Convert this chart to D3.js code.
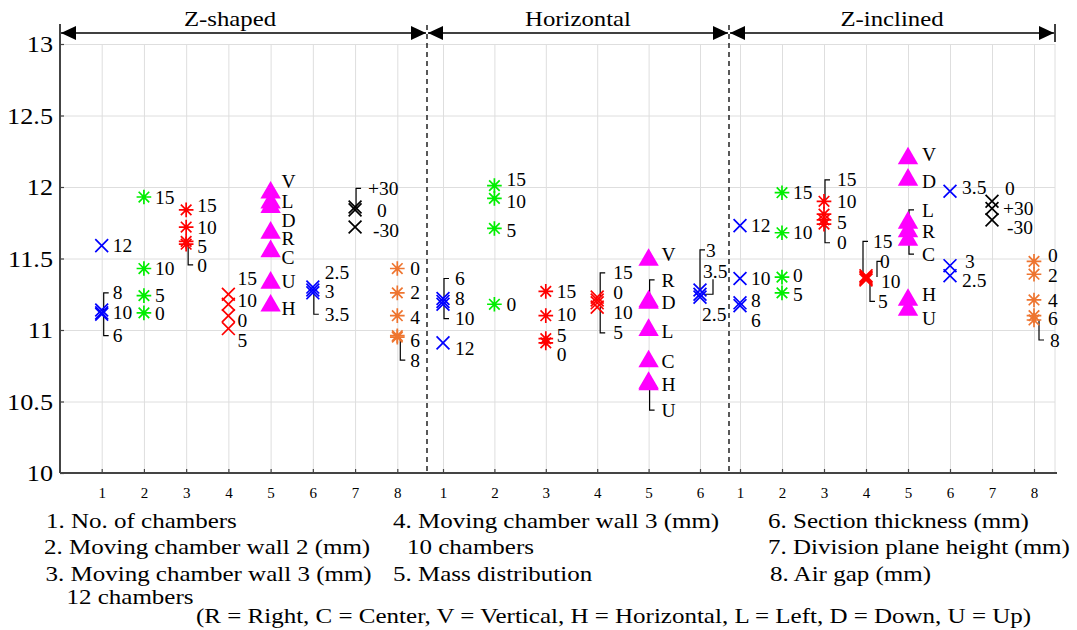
<!DOCTYPE html>
<html>
<head>
<meta charset="utf-8">
<script src="https://cdn.jsdelivr.net/npm/d3@7"></script>
<style>
body { margin: 0; background: #fff; }
text { font-family: "Liberation Serif", "Times New Roman", serif; fill: #000; }
</style>
</head>
<body>
<script>
// ---- data ----
const sectionNames = ["Z-shaped", "Horizontal", "Z-inclined"];
const sectionTicks = [[1, 2, 3, 4, 5, 6, 7, 8], [1, 2, 3, 4, 5, 6], [1, 2, 3, 4, 5, 6, 7, 8]];
const yTicks = [10, 10.5, 11, 11.5, 12, 12.5, 13];

// Z-shaped: one array per factor (1..8)
const zsTags = [["12","8","10","6"], ["15","10","5","0"], ["15","10","5","0"], ["15","10","0","5"],
  ["V","L","D","R","C","U","H"], ["2.5","3","3.5"], ["+30","0","-30"], ["0","2","4","6","8"]];
const zsValues = [[11.59,11.14,11.12,11.11], [11.93,11.43,11.24,11.12], [11.84,11.72,11.60,11.62],
  [11.25,11.18,11.10,11.01], [11.96,11.89,11.86,11.68,11.55,11.33,11.17], [11.30,11.28,11.26],
  [11.86,11.84,11.72], [11.43,11.26,11.10,10.96,10.95]];

// Horizontal: factors 1..6
const hzTags = [["6","8","10","12"], ["15","10","5","0"], ["15","10","5","0"], ["15","0","10","5"],
  ["V","R","D","L","C","H","U"], ["3","3.5","2.5"]];
const hzValues = [[11.22,11.20,11.18,10.91], [12.01,11.92,11.71,11.18], [11.27,11.10,10.94,10.91],
  [11.23,11.21,11.19,11.16], [11.49,11.20,11.19,11.00,10.78,10.63,10.62], [11.28,11.25,11.23]];

// Z-inclined: factors 1..8
const ziTags = [["12","10","8","6"], ["15","10","0","5"], ["15","10","5","0"], ["15","0","10","5"],
  ["V","D","L","R","C","H","U"], ["3.5","3","2.5"], ["0","+30","-30"], ["0","2","4","6","8"]];
const ziValues = [[11.73,11.36,11.19,11.17], [11.96,11.68,11.37,11.26], [11.90,11.81,11.77,11.74],
  [11.38,11.37,11.36,11.35], [12.20,12.05,11.75,11.69,11.63,11.21,11.14], [11.97,11.45,11.38],
  [11.90,11.85,11.77], [11.48,11.39,11.21,11.10,11.07]];

const legendLines = [
  "1. No. of chambers", "2. Moving chamber wall 2 (mm)", "3. Moving chamber wall 3 (mm)", "12 chambers",
  "4. Moving chamber wall 3 (mm)", "10 chambers", "5. Mass distribution",
  "6. Section thickness (mm)", "7. Division plane height (mm)", "8. Air gap (mm)",
  "(R = Right, C = Center, V = Vertical, H = Horizontal, L = Left, D = Down, U = Up)"
];

// ---- label placement (annotation layout, in y-value units) ----
const zsLabelY = [[11.59,11.26,11.12,10.96], [11.93,11.43,11.245,11.115], [11.87,11.72,11.585,11.455],
  [11.36,11.21,11.07,10.93], [12.04,11.90,11.77,11.64,11.51,11.34,11.15], [11.40,11.27,11.11],
  [11.99,11.84,11.70], [11.43,11.26,11.09,10.93,10.79]];
const zsLabelDx = [11, 11, 11, 9, 11, 12, [13, 22, 18], 13];
const zsLeaders = [[0,1,2], [0,3,2], [2,3,2], [5,2,1], [6,0,1], [7,4,3]];

const hzLabelY = [[11.36,11.22,11.08,10.87], [12.05,11.90,11.70,11.18], [11.27,11.11,10.965,10.83],
  [11.40,11.26,11.12,10.98], [11.53,11.35,11.19,10.99,10.78,10.62,10.44], [11.56,11.41,11.11]];
const hzLabelDx = [12, 12, 11, 16, 13, [6, 3, 2]];
const hzLeaders = [[0,0,1], [0,2,1], [3,0,3], [3,3,3], [4,1,1], [4,6,1], [5,0,0], [5,1,13,"m"]];

const ziLabelY = [[11.73,11.36,11.21,11.07], [11.96,11.68,11.38,11.25], [12.05,11.90,11.75,11.61],
  [11.62,11.48,11.34,11.20], [12.23,12.04,11.84,11.69,11.53,11.25,11.08], [12.00,11.48,11.35],
  [11.99,11.85,11.72], [11.52,11.38,11.21,11.08,10.93]];
const ziLabelDx = [11, 11, 13, [7, 14, 15, 12], 14, [12, 15, 12], [13, 11, 15], [14, 14, 14, 14, 16]];
const ziLeaders = [[2,0,1], [2,3,1], [3,0,-3], [3,1,11], [3,3,4], [4,2,1], [4,4,1], [7,4,5]];

// ---- styles ----
const factorColor = ["#0000ff", "#00ee00", "#ff0000", "#ff0000", "#ff00ff", "#0000ff", "#000000", "#ee7530"];
const factorShape = ["x", "star", "star", "x", "tri", "x", "x", "star"];

// ---- layout ----
const width = 1077, height = 630;
const plotL = 60, plotR = 1055, plotT = 44, plotB = 473;
const sectionEdge = [60, 427, 729, 1055];
const sectionRange = [[101.7, 397.3], [443, 700], [740, 1034]];
const titleX = [230, 578, 892];

const svg = d3.select("body").append("svg").attr("width", width).attr("height", height);

const y = d3.scaleLinear().domain([10, 13]).range([plotB, plotT]);
const xScales = sectionTicks.map((t, i) =>
  d3.scaleLinear().domain([1, t.length]).range(sectionRange[i]));

function stext(g, x, yy, str, size, sx, anchor) {
  return g.append("text")
    .attr("transform", `translate(${x},${yy}) scale(${sx},1)`)
    .attr("font-size", size)
    .attr("text-anchor", anchor || "start")
    .text(str);
}

// grid
svg.append("g")
  .attr("transform", `translate(${plotL},0)`)
  .call(d3.axisLeft(y).tickValues(yTicks).tickSize(-(plotR - plotL)).tickFormat(""))
  .call(g => g.select(".domain").remove())
  .call(g => g.selectAll("line").attr("stroke", "#dedede"));

xScales.forEach((xs, i) => {
  svg.append("g")
    .attr("transform", `translate(0,${plotB})`)
    .call(d3.axisBottom(xs).tickValues(sectionTicks[i]).tickSize(-(plotB - plotT)).tickFormat(""))
    .call(g => g.select(".domain").remove())
    .call(g => g.selectAll("line").attr("stroke", "#dedede"));
});
svg.append("line").attr("x1", plotR).attr("x2", plotR).attr("y1", plotT).attr("y2", plotB)
  .attr("stroke", "#dedede");

// axes
const yAxis = svg.append("g")
  .attr("transform", `translate(${plotL},0)`)
  .call(d3.axisLeft(y).tickValues(yTicks).tickSize(-4).tickFormat(d => String(d)))
  .call(g => g.select(".domain").remove())
  .call(g => g.selectAll("line").attr("stroke", "#444").attr("stroke-width", 1.2));
yAxis.selectAll("text")
  .attr("x", null).attr("dy", "0.33em")
  .attr("transform", "translate(-7,0) scale(1.14,1)")
  .attr("font-size", 23)
  .attr("font-family", "Liberation Serif, Times New Roman, serif")
  .attr("fill", "#000");

xScales.forEach((xs, i) => {
  const g = svg.append("g")
    .attr("transform", `translate(0,${plotB})`)
    .call(d3.axisBottom(xs).tickValues(sectionTicks[i]).tickSize(-4).tickPadding(14).tickFormat(d3.format("d")))
    .call(g => g.select(".domain").remove())
    .call(g => g.selectAll("line").attr("stroke", "#444").attr("stroke-width", 1.2));
  g.selectAll("text")
    .attr("font-size", 15)
    .attr("font-family", "Liberation Serif, Times New Roman, serif")
    .attr("fill", "#000");
});

svg.append("line").attr("x1", plotL).attr("x2", plotL).attr("y1", 24).attr("y2", plotB)
  .attr("stroke", "#444").attr("stroke-width", 2);
svg.append("line").attr("x1", plotL).attr("x2", plotR + 2).attr("y1", plotB).attr("y2", plotB)
  .attr("stroke", "#444").attr("stroke-width", 2);

// section dividers and arrows
const defs = svg.append("defs");
defs.append("marker").attr("id", "ah")
  .attr("viewBox", "0 0 15 14").attr("refX", 15).attr("refY", 7)
  .attr("markerWidth", 15).attr("markerHeight", 14)
  .attr("markerUnits", "userSpaceOnUse").attr("orient", "auto-start-reverse")
  .append("path").attr("d", "M0,0L15,7L0,14Z").attr("fill", "#000");

[sectionEdge[1], sectionEdge[2]].forEach(xd => {
  svg.append("line").attr("x1", xd).attr("x2", xd).attr("y1", 25).attr("y2", plotB)
    .attr("stroke", "#000").attr("stroke-width", 1.3).attr("stroke-dasharray", "5,4");
});
svg.append("line").attr("x1", plotR).attr("x2", plotR).attr("y1", 24).attr("y2", 42)
  .attr("stroke", "#000").attr("stroke-width", 1.5);

sectionNames.forEach((name, i) => {
  svg.append("line")
    .attr("x1", sectionEdge[i] + 1).attr("x2", sectionEdge[i + 1] - 1)
    .attr("y1", 33).attr("y2", 33)
    .attr("stroke", "#000").attr("stroke-width", 1.3)
    .attr("marker-start", "url(#ah)").attr("marker-end", "url(#ah)");
  stext(svg, titleX[i], 26, name, 20, 1.24, "middle");
});

// symbols
const symX = { draw(ctx, size) { const r = Math.sqrt(size) / 2;
  ctx.moveTo(-r, -r); ctx.lineTo(r, r); ctx.moveTo(-r, r); ctx.lineTo(r, -r); } };
const symStar = { draw(ctx, size) { const r = Math.sqrt(size) / 2, d = r * 0.72;
  ctx.moveTo(-r, 0); ctx.lineTo(r, 0); ctx.moveTo(0, -r); ctx.lineTo(0, r);
  ctx.moveTo(-d, -d); ctx.lineTo(d, d); ctx.moveTo(-d, d); ctx.lineTo(d, -d); } };
const shapePath = {
  x: d3.symbol().type(symX).size(165)(),
  star: d3.symbol().type(symStar).size(215)(),
  tri: d3.symbol().type(d3.symbolTriangle).size(180)()
};

function drawSection(si, tags, values, labelY, labelDx, leaders) {
  const xs = xScales[si];
  const g = svg.append("g");
  const pts = [];
  values.forEach((vals, f) => {
    vals.forEach((v, k) => {
      const dx = Array.isArray(labelDx[f]) ? labelDx[f][k] : labelDx[f];
      pts.push({ f, k, v, tag: tags[f][k], ly: labelY[f][k], dx });
    });
  });

  // leaders
  leaders.forEach(([f, k, lx, mode]) => {
    const mx = xs(f + 1), my = y(values[f][k]), ly = y(labelY[f][k]);
    let d;
    if (mode === "m") {
      d = `M${mx + lx},${ly + 8}L${mx + lx},${my}L${mx + lx - 8},${my}`;
    } else {
      d = `M${mx + lx},${my}L${mx + lx},${ly}L${mx + lx + 5},${ly}`;
    }
    g.append("path").attr("d", d).attr("fill", "none")
      .attr("stroke", "#000").attr("stroke-width", 1.2);
  });

  // markers
  g.selectAll("path.mk").data(pts).enter().append("path")
    .attr("class", "mk")
    .attr("transform", d => `translate(${xs(d.f + 1)},${y(d.v)})`)
    .attr("d", d => shapePath[factorShape[d.f]])
    .attr("fill", d => factorShape[d.f] === "tri" ? factorColor[d.f] : "none")
    .attr("stroke", d => factorColor[d.f])
    .attr("stroke-width", d => factorShape[d.f] === "tri" ? 0 : 1.7);

  // labels
  g.selectAll("text.lb").data(pts).enter().append("text")
    .attr("class", "lb")
    .attr("x", d => xs(d.f + 1) + d.dx)
    .attr("y", d => y(d.ly))
    .attr("dy", "0.34em")
    .attr("font-size", 19.5)
    .text(d => d.tag);
}

drawSection(0, zsTags, zsValues, zsLabelY, zsLabelDx, zsLeaders);
drawSection(1, hzTags, hzValues, hzLabelY, hzLabelDx, hzLeaders);
drawSection(2, ziTags, ziValues, ziLabelY, ziLabelDx, ziLeaders);

// legend text
const legendPos = [[46, 528], [44, 554], [45.5, 581], [66.5, 604], [393, 528], [407, 554], [393, 581],
  [768, 528], [768, 554], [770, 581], [196, 623]];
legendLines.forEach((t, i) => stext(svg, legendPos[i][0], legendPos[i][1], t, 21, 1.19));
</script>
</body>
</html>
